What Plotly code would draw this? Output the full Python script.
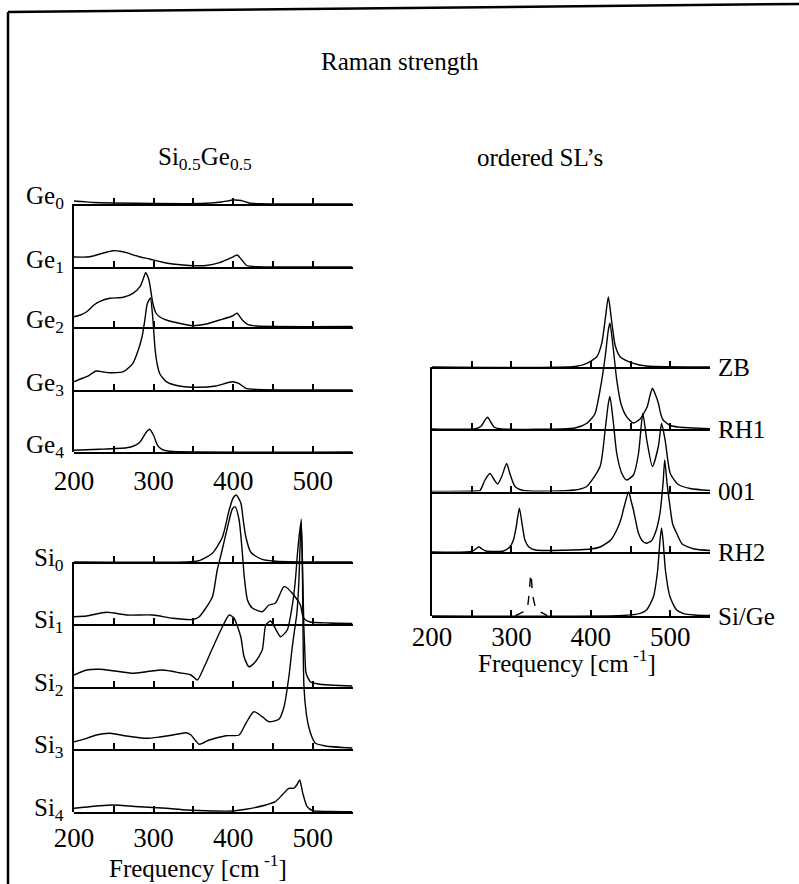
import plotly.graph_objects as go

W, H = 799, 884

# ---------------- data (frequency [cm^-1], Raman strength in arbitrary units) -------------
FREQ_RANGE = [200, 550]
MAJOR_TICKS = [200, 300, 400, 500]
MINOR_TICKS = [250, 350, 450, 550]

GE_LABELS = ["Ge<sub>0</sub>", "Ge<sub>1</sub>", "Ge<sub>2</sub>", "Ge<sub>3</sub>", "Ge<sub>4</sub>"]
SI_LABELS = ["Si<sub>0</sub>", "Si<sub>1</sub>", "Si<sub>2</sub>", "Si<sub>3</sub>", "Si<sub>4</sub>"]
SL_LABELS = ["ZB", "RH1", "001", "RH2", "Si/Ge"]

GE0 = [(200, 3), (210, 2.5), (225, 1.5), (250, 1), (300, 0.5), (360, 0.5), (385, 2), (400, 4),
       (410, 3.5), (420, 1), (435, 0.3), (550, 0)]
GE1 = [(200, 10), (216, 10), (224, 11), (235, 13.5), (249, 16.3), (260, 15.5), (266, 14.3), (282, 10.3),
       (295, 8), (310, 5), (324, 3), (349, 1.3), (366, 1.5), (383, 4.3), (399, 9.7), (405, 12), (411, 7),
       (417, 1.5), (431, 0.3), (550, 0)]
GE2 = [(200, 10.3), (208, 12), (216, 15.3), (225, 22), (232, 25.3), (245, 28.7), (262, 29.7), (274, 33.7),
       (283, 40.3), (287, 48), (290, 54.3), (293, 50), (295, 44), (299, 24), (303, 14), (308, 10), (316, 7),
       (332, 3.7), (349, 1.3), (366, 3), (383, 7), (399, 11), (405, 13.7), (411, 7.5), (418, 2.7),
       (430, 1), (550, 0.5)]
GE3 = [(200, 8.3), (208, 11), (216, 13.3), (228, 19), (237, 18), (245, 17.3), (262, 18.3), (274, 26.7),
       (282, 43), (286, 55), (289, 70), (292, 86), (296, 92), (299, 72), (302, 40), (305, 24), (308, 16),
       (316, 8.3), (332, 4), (357, 2.7), (378, 4), (399, 8.3), (407, 6.7), (416, 1.7), (430, 0.5), (550, 0)]
GE4 = [(200, 1.7), (232, 2.7), (266, 4.3), (275, 6), (283, 10), (291, 20), (295, 22.7), (300, 16.7),
       (305, 6.7), (311, 2.3), (320, 0.7), (550, 0)]

SI0 = [(200, 0), (340, 0), (357.5, 1.3), (374, 8.7), (386.6, 25), (395, 52), (400, 64), (404, 67),
       (408, 62), (410, 58), (413, 40), (416, 25), (422, 10), (428, 6), (436.6, 2.7), (450, 1),
       (470, 0.3), (550, 0)]
SI1 = [(200, 7.3), (216, 8), (241, 11.7), (266, 9), (299, 9), (324, 5.7), (349, 4.5), (357, 7), (364, 14),
       (374, 27.3), (380, 54), (385, 70), (393, 97), (399, 115), (402.5, 117.3), (407.5, 104),
       (411.6, 70.7), (414, 47), (418, 24), (424, 16), (436.6, 12.3), (445, 19), (453, 20.7),
       (463.7, 37.3), (468, 36), (474, 31), (478, 27), (482.5, 22), (485, 18), (487.5, 8), (491, 4),
       (497, 2), (520, 1), (550, 0.5)]
SI2 = [(200, 12), (216, 17), (232.5, 17.7), (249, 16.3), (274, 13.7), (291, 15.3), (311.6, 17),
       (332.5, 14.3), (347, 12), (355, 7), (363.7, 20.3), (374, 38.7), (384.6, 57), (395, 72), (401, 69),
       (409.6, 50.3), (413.7, 30.3), (420, 20.3), (428, 25.3), (436.6, 37), (441, 62), (447, 66),
       (452, 60), (459.6, 50.3), (468, 57), (474, 80), (478, 105), (481, 135), (484, 158), (485.5, 165),
       (487.5, 110), (488.75, 63.7), (490, 37), (491.7, 13.7), (497, 5.3), (507, 3), (550, 1)]
SI3 = [(200, 7.3), (216, 10.7), (228, 14), (245, 15.7), (266, 13), (291, 10.7), (307.5, 12), (324, 14),
       (341, 16.3), (347, 14), (357.5, 4.7), (370, 9), (391, 13.3), (407.5, 14), (416, 25.7), (426, 37.3),
       (436.6, 32.3), (445, 27.3), (457.5, 29.7), (464, 42.3), (470, 72), (474, 100), (477, 118),
       (480, 135), (482.5, 166), (484, 200), (485.5, 230), (487, 180), (489, 62), (492, 35), (495, 22),
       (499, 12), (503, 6), (516, 3), (550, 1)]
SI4 = [(200, 3.7), (232.5, 6.3), (249, 7), (282.5, 5.3), (316, 3.7), (341, 2), (374, 1), (400, 1),
       (416, 2.7), (441, 7), (453, 10.3), (461.6, 17), (470, 23.7), (476, 23.7), (480, 27), (483.7, 32),
       (487.5, 18.7), (493, 5.3), (500, 1.3), (520, 0.5), (550, 0.3)]

ZB = [(200, 0), (380, 0.5), (395, 3.7), (407.5, 10.3), (413.7, 23.7), (418, 47), (422, 70), (426, 47),
      (430.5, 22), (436.8, 10.3), (453.6, 3.7), (470, 1), (550, 0)]
RH1 = [(200, 0), (255, 0.3), (262, 3), (266, 8), (270, 11.7), (274, 7), (278, 2), (285, 0.3), (380, 1),
       (395, 5.7), (405, 15), (411.6, 39), (418, 72), (422, 99), (424, 106), (428, 82), (432.6, 49),
       (438, 25), (445, 12.3), (453.6, 6), (462, 10), (470.8, 22), (474, 32), (477.5, 40.7), (481, 35),
       (485, 25.7), (488, 15), (491, 9), (500, 3.5), (510, 2), (550, 0.3)]
SL001 = [(200, 0), (255, 0.5), (260.5, 1), (266.7, 11.5), (273, 18), (278.5, 11.5), (282.7, 7.5),
         (287.8, 15), (294, 28), (298, 18), (304.5, 5), (315, 1), (380, 1.5), (394.8, 5), (411.6, 25),
         (418, 61.5), (422, 88), (424, 95), (428, 71.5), (432.6, 38), (439, 18), (445, 11.5),
         (453.6, 16.5), (460, 38), (465.4, 78), (470.4, 51.5), (477.5, 25), (485, 45), (489, 68),
         (493.5, 51.5), (500, 18), (510, 7), (525, 3), (550, 1)]
RH2 = [(200, 0), (250, 0.5), (255, 3), (259, 5.3), (263, 3), (268, 1), (290, 1), (298, 5), (302.5, 12),
       (306, 25), (310, 43.7), (314, 25), (317, 12), (322, 5), (330, 2), (400, 3), (411.6, 5), (425, 12),
       (432.6, 22), (438, 33), (441.8, 45), (447.6, 60), (451, 50), (453.6, 42), (460, 18.7), (465, 11),
       (470, 8.7), (476, 11), (481, 18.7), (487, 38.7), (491, 70), (493, 92), (496, 68), (499.7, 45),
       (503, 28), (508, 18.7), (515, 8), (530, 3), (550, 1.5)]
SIGE = [(200, 0), (440, 0.5), (462, 2.7), (470, 6), (478.7, 19), (484, 45), (487, 75), (489, 88),
        (491, 75), (494, 45), (499.7, 19), (508, 6), (516, 2.7), (530, 1), (550, 0.5)]
SIGE_DASHED = [(305, 0.3), (311, 2.7), (319, 6), (322, 20), (324.5, 42), (327, 20), (331.8, 6),
               (340, 2.7), (345, 0.3)]

# ---------------- layout (pixel geometry) ----------------
FONT = "Liberation Serif, Times New Roman, serif"
panels = [
    dict(x=(74, 352.5), top=175, bases=[204, 267, 327, 390, 452],
         spectra=[[GE0], [GE1], [GE2], [GE3], [GE4]], labels=GE_LABELS, side="left",
         label_dy=-6, standoff=4),
    dict(x=(74, 352.5), top=470, bases=[562, 624, 687, 749, 812],
         spectra=[[SI0], [SI1], [SI2], [SI3], [SI4]], labels=SI_LABELS, side="left",
         label_dy=-3, standoff=1),
    dict(x=(432, 710), top=280, bases=[367, 429, 491.5, 552, 616],
         spectra=[[ZB], [RH1], [SL001], [RH2], [SIGE, SIGE_DASHED]], labels=SL_LABELS, side="right",
         label_dy=0, standoff=-4),
]


def px(x):
    return x / W


def py(y):
    return 1 - y / H


fig = go.Figure()
layout = {}
annotations = []
n = 0
for p in panels:
    nb = len(p["bases"])
    for k, base in enumerate(p["bases"]):
        n += 1
        xa = "xaxis" if n == 1 else f"xaxis{n}"
        ya = "yaxis" if n == 1 else f"yaxis{n}"
        bottom = k == nb - 1
        layout[xa] = dict(domain=[px(p["x"][0]), px(p["x"][1])], range=FREQ_RANGE, anchor=f"y{n}",
                          showline=True, linecolor="black", linewidth=2, ticks="inside", ticklen=6,
                          tickwidth=1.6, tickcolor="black", tickmode="array", tickvals=MAJOR_TICKS,
                          minor=dict(ticks="inside", tickmode="array", tickvals=MINOR_TICKS, ticklen=6,
                                     tickwidth=1.6, tickcolor="black", showgrid=False),
                          showticklabels=bottom, showgrid=False, zeroline=False, automargin=False,
                          tickfont=dict(family=FONT, size=27, color="black"),
                          ticklabelstandoff=p["standoff"])
        layout[ya] = dict(domain=[py(base), py(p["top"])], range=[0, base - p["top"]], anchor=f"x{n}",
                          visible=False, fixedrange=True, automargin=False)
        for j, spec in enumerate(p["spectra"][k]):
            fig.add_trace(go.Scatter(
                x=[v[0] for v in spec], y=[v[1] for v in spec], mode="lines",
                line=dict(color="black", width=1.4, shape="spline", smoothing=0.6,
                          dash="dash" if j == 1 else "solid"),
                xaxis=f"x{n}", yaxis=f"y{n}", showlegend=False, hoverinfo="skip"))
        if p["side"] == "left":
            annotations.append(dict(text=p["labels"][k], x=px(66), y=py(base + p["label_dy"]),
                                    xref="paper", yref="paper", xanchor="right", yanchor="middle",
                                    showarrow=False, font=dict(family=FONT, size=25, color="black")))
        else:
            annotations.append(dict(text=p["labels"][k], x=px(716), y=py(base + p["label_dy"]),
                                    xref="paper", yref="paper", xanchor="left", yanchor="middle",
                                    showarrow=False, font=dict(family=FONT, size=25, color="black")))
    # vertical axis of the panel
    n += 1
    layout[f"xaxis{n}"] = dict(domain=[px(p["x"][0]), px(p["x"][1])], range=FREQ_RANGE, anchor=f"y{n}",
                               visible=False, automargin=False)
    layout[f"yaxis{n}"] = dict(domain=[py(p["bases"][-1]), py(p["bases"][0])], range=[0, 1],
                               anchor=f"x{n}", showline=True, linecolor="black", linewidth=2,
                               ticks="", showticklabels=False, showgrid=False, zeroline=False,
                               automargin=False)
    fig.add_trace(go.Scatter(x=[], y=[], xaxis=f"x{n}", yaxis=f"y{n}", showlegend=False,
                             hoverinfo="skip"))

# titles
texts = [
    ("Raman strength", 400, 62),
    ("Si<sub>0.5</sub>Ge<sub>0.5</sub>", 205, 158),
    ("ordered SL\u2019s", 540, 157),
    ("Frequency [cm<sup> -1</sup>]", 198, 866),
    ("Frequency [cm<sup> -1</sup>]", 567, 661),
]
for t, x, y in texts:
    annotations.append(dict(text=t, x=px(x), y=py(y), xref="paper", yref="paper", xanchor="center",
                            yanchor="middle", showarrow=False,
                            font=dict(family=FONT, size=25, color="black")))

fig.update_layout(
    width=W, height=H, autosize=False,
    margin=dict(l=0, r=0, t=0, b=0, pad=0, autoexpand=False),
    showlegend=False,
    paper_bgcolor="white", plot_bgcolor="rgba(0,0,0,0)",
    annotations=annotations,
    shapes=[
        dict(type="line", xref="paper", yref="paper", x0=px(8), x1=px(8), y0=py(12), y1=py(884),
             line=dict(color="black", width=2.5)),
        dict(type="line", xref="paper", yref="paper", x0=px(8), x1=px(799), y0=py(12), y1=py(4),
             line=dict(color="black", width=2.5)),
    ],
    **layout,
)
fig.write_html("out.html")
